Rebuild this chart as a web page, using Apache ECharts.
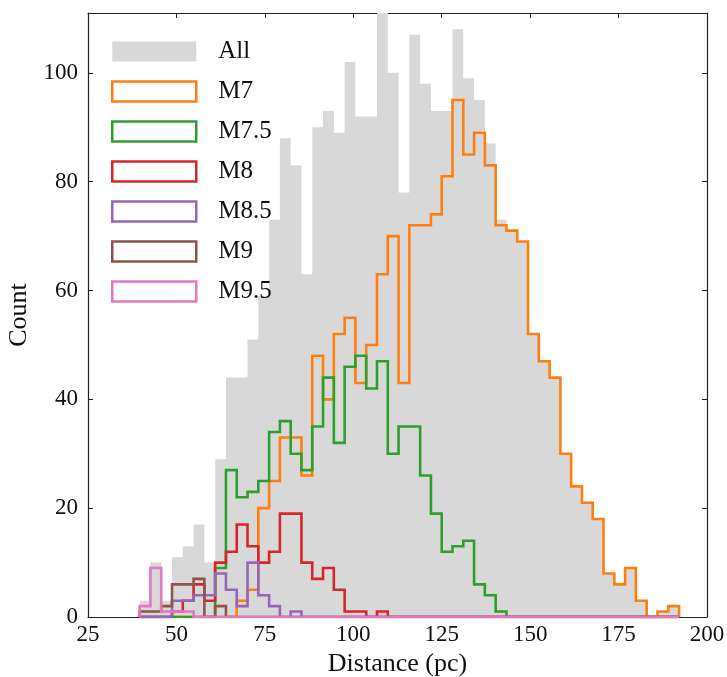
<!DOCTYPE html>
<html>
<head>
<meta charset="utf-8">
<script src="https://cdn.jsdelivr.net/npm/echarts@6/dist/echarts.min.js"></script>
<style>
html,body{margin:0;padding:0;background:#fff;}
#chart{width:727px;height:677px;}
</style>
</head>
<body>
<div id="chart"></div>
<script>
// Histogram binning (common bins for all series)
const binStart = 39.6;
const binWidth = 3.05;
const nBins = 50;

const seriesNames = ['All', 'M7', 'M7.5', 'M8', 'M8.5', 'M9', 'M9.5'];

const countsAll = [3,10,3,11,13,17,10,29,44,44, 51,59,73,88,83,63,90,93,89,102, 92,92,111,100,78,107,98,93,93,108, 99,95,87,73,71,69,52,47,44,30, 24,21,18,8,6,9,3,0,1,2];
const countsM7 = [0,0,0,0,0,0,0,0,0,3, 5,20,25,33,33,26,48,40,52,55, 43,50,63,70,43,72,72,74,81,95, 85,89,83,72,71,69,52,47,44,30, 24,21,18,8,6,9,3,0,1,2];
const countsM75 = [0,0,0,0,0,0,0,9,27,22, 23,25,34,36,30,27,35,44,32,46, 48,42,47,30,35,35,26,19,12,13, 14,6,4,1,0,0,0,0,0,0, 0,0,0,0,0,0,0,0,0,0];
const countsM8 = [0,0,0,1,3,6,3,10,12,17, 13,10,12,19,19,10,7,9,5,1, 1,0,1,0,0,0,0,0,0,0, 0,0,0,0,0,0,0,0,0,0, 0,0,0,0,0,0,0,0,0,0];
const countsM85 = [0,0,0,3,3,4,4,8,5,2, 10,4,2,0,1,0,0,0,0,0, 0,0,0,0,0,0,0,0,0,0, 0,0,0,0,0,0,0,0,0,0, 0,0,0,0,0,0,0,0,0,0];
const countsM9 = [1,1,2,6,6,7,0,2,0,0, 0,0,0,0,0,0,0,0,0,0, 0,0,0,0,0,0,0,0,0,0, 0,0,0,0,0,0,0,0,0,0, 0,0,0,0,0,0,0,0,0,0];
const countsM95 = [2,9,1,1,1,0,0,0,0,0, 0,0,0,0,0,0,0,0,0,0, 0,0,0,0,0,0,0,0,0,0, 0,0,0,0,0,0,0,0,0,0, 0,0,0,0,0,0,0,0,0,0];

const xTicks = [25, 50, 75, 100, 125, 150, 175, 200];
const yTicks = [0, 20, 40, 60, 80, 100];

const edges = [];
for (let i = 0; i <= nBins; i++) edges.push(+(binStart + i * binWidth).toFixed(4));

function stepData(counts) {
  const d = [[edges[0], 0]];
  counts.forEach((c, i) => d.push([edges[i], c]));
  d.push([edges[nBins], counts[nBins - 1]]);
  d.push([edges[nBins], 0]);
  return d;
}

const colors = {
  'M7': '#ff7f0e', 'M7.5': '#2ca02c', 'M8': '#d62728',
  'M8.5': '#9467bd', 'M9': '#8c564b', 'M9.5': '#e377c2'
};
const grayFill = '#d8d8d8';
const frameColor = '#222';
const serif = '"Liberation Serif", "DejaVu Serif", serif';

const countsByName = {
  'All': countsAll, 'M7': countsM7, 'M7.5': countsM75, 'M8': countsM8,
  'M8.5': countsM85, 'M9': countsM9, 'M9.5': countsM95
};

const series = seriesNames.map((name, idx) => {
  const base = {
    name: name,
    type: 'line',
    step: 'end',
    data: stepData(countsByName[name]),
    showSymbol: false,
    symbol: 'none',
    silent: true,
    animation: false,
    z: 2 + idx,
    xAxisIndex: 0,
    yAxisIndex: 0
  };
  if (name === 'All') {
    base.lineStyle = { width: 0, color: grayFill };
    base.itemStyle = { color: grayFill };
    base.areaStyle = { color: grayFill, opacity: 1 };
  } else {
    base.lineStyle = { width: 2.6, color: colors[name], join: 'miter', cap: 'butt' };
    base.itemStyle = { color: colors[name] };
  }
  return base;
});

const legendData = seriesNames.map(name => {
  if (name === 'All') {
    return { name: name, icon: 'rect', itemStyle: { color: grayFill, borderWidth: 0 } };
  }
  return { name: name, icon: 'rect', itemStyle: { color: '#ffffff', borderColor: colors[name], borderWidth: 2.5 } };
});

const tickLen = 5;
const axisLineStyle = { show: true, onZero: false, lineStyle: { color: frameColor, width: 1.2 } };
const axisTickStyle = { show: true, inside: true, length: tickLen, lineStyle: { color: frameColor, width: 1 } };

const option = {
  backgroundColor: '#ffffff',
  animation: false,
  grid: { left: 88, right: 20, top: 13, bottom: 60, containLabel: false, outerBoundsMode: 'none' },
  legend: {
    orient: 'vertical',
    left: 111,
    top: 39,
    padding: 0,
    itemWidth: 84,
    itemHeight: 20,
    itemGap: 15,
    selectedMode: false,
    data: legendData,
    textStyle: { fontFamily: serif, fontSize: 25, color: '#111', lineHeight: 20, padding: [0, 0, 0, 17] }
  },
  xAxis: [
    {
      type: 'value', position: 'bottom', min: xTicks[0], max: xTicks[xTicks.length - 1], interval: 25,
      name: 'Distance (pc)', nameLocation: 'middle', nameGap: 34,
      nameTextStyle: { fontFamily: serif, fontSize: 26, color: '#111' },
      axisLine: axisLineStyle,
      axisTick: axisTickStyle,
      axisLabel: { show: true, margin: 6, fontFamily: serif, fontSize: 23, color: '#111' },
      splitLine: { show: false }
    },
    {
      type: 'value', position: 'top', min: xTicks[0], max: xTicks[xTicks.length - 1], interval: 25,
      axisLine: axisLineStyle,
      axisTick: axisTickStyle,
      axisLabel: { show: false },
      splitLine: { show: false }
    }
  ],
  yAxis: [
    {
      type: 'value', position: 'left', min: 0, max: 111, interval: 20,
      name: 'Count', nameLocation: 'middle', nameGap: 49,
      nameTextStyle: { fontFamily: serif, fontSize: 26, color: '#111' },
      axisLine: axisLineStyle,
      axisTick: axisTickStyle,
      axisLabel: { show: true, margin: 10, showMaxLabel: false, fontFamily: serif, fontSize: 23, color: '#111',
        formatter: v => (yTicks.indexOf(v) >= 0 ? String(v) : '') },
      splitLine: { show: false }
    },
    {
      type: 'value', position: 'right', min: 0, max: 111, interval: 20,
      axisLine: axisLineStyle,
      axisTick: axisTickStyle,
      axisLabel: { show: false },
      splitLine: { show: false }
    }
  ],
  series: series
};

const chart = echarts.init(document.getElementById('chart'), null, { renderer: 'canvas' });
chart.setOption(option);
</script>
</body>
</html>
